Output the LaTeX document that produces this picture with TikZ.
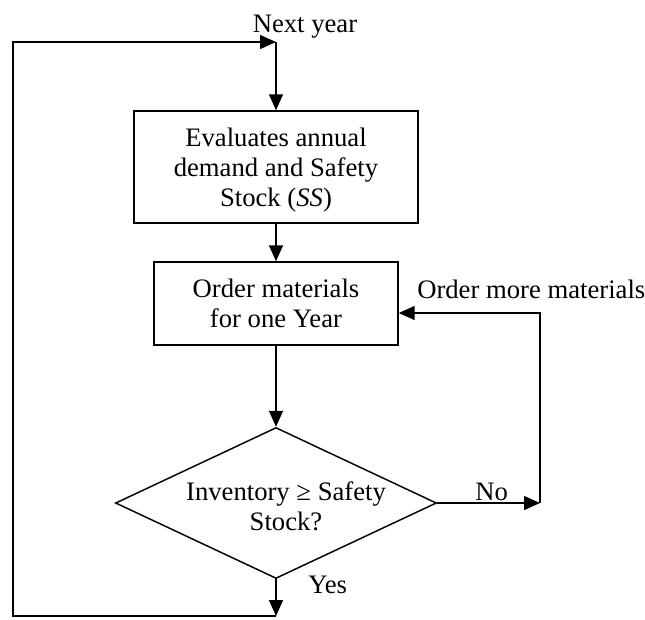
\documentclass[tikz,border=0pt]{standalone}
\usepackage{fontspec}
\setmainfont{Liberation Serif}
\usetikzlibrary{arrows.meta,shapes.geometric}

\tikzset{
    flowbox/.style={draw, line width=1.1pt, align=center, inner sep=0pt, text depth=0pt},
    decision/.style={draw, diamond, line width=1.1pt, inner sep=0pt},
    flowarrow/.style={line width=1.1pt, -{Triangle[length=12pt,width=10.5pt]}},
    flowlabel/.style={inner sep=0pt}
}

\begin{document}
\begin{tikzpicture}[x=0.75pt, y=-0.75pt, font=\fontsize{20pt}{22.5pt}\selectfont]
        \useasboundingbox (0,0) rectangle (645,619);

        \node[flowbox, minimum width=213pt, minimum height=84pt] (evaluate) at (276,167) {Evaluates annual\\demand and Safety\\Stock (\textit{SS})};
        \node[flowbox, minimum width=183pt, minimum height=62.25pt] (order) at (276,303.5) {Order materials\\for one Year};
        \node[decision, minimum width=240.75pt, minimum height=113.25pt] (check) at (276,503) {};
        \node[flowlabel, align=center] (checktext) at (286,506) {Inventory ≥ Safety\\Stock?};

        \coordinate (nexttop) at (276,42);
        \coordinate (lefttop) at (13,42);
        \coordinate (leftbottom) at (13,616);
        \coordinate (yesend) at (276,616);
        \coordinate (noend) at (540,503);
        \coordinate (moretop) at (540,313);

        \draw[flowarrow] (nexttop) -- (evaluate);
        \draw[flowarrow] (evaluate) -- (order);
        \draw[flowarrow] (order) -- (check);
        \draw[flowarrow] (check.south) -- (yesend);
        \draw[flowarrow] (yesend) -- (leftbottom) -- (lefttop) -- (nexttop);
        \draw[flowarrow] (check) -- (noend);
        \draw[flowarrow] (noend) -- (moretop) -- (moretop -| order.east);

        \node[flowlabel, anchor=base] (nextyear) at (305,32) {Next year};
        \node[flowlabel, anchor=base west] (moretext) at (417,298) {Order more materials};
        \node[flowlabel, anchor=base west] (notext) at (475,500) {No};
        \node[flowlabel, anchor=base west] (yestext) at (308,593) {Yes};
\end{tikzpicture}
\end{document}
